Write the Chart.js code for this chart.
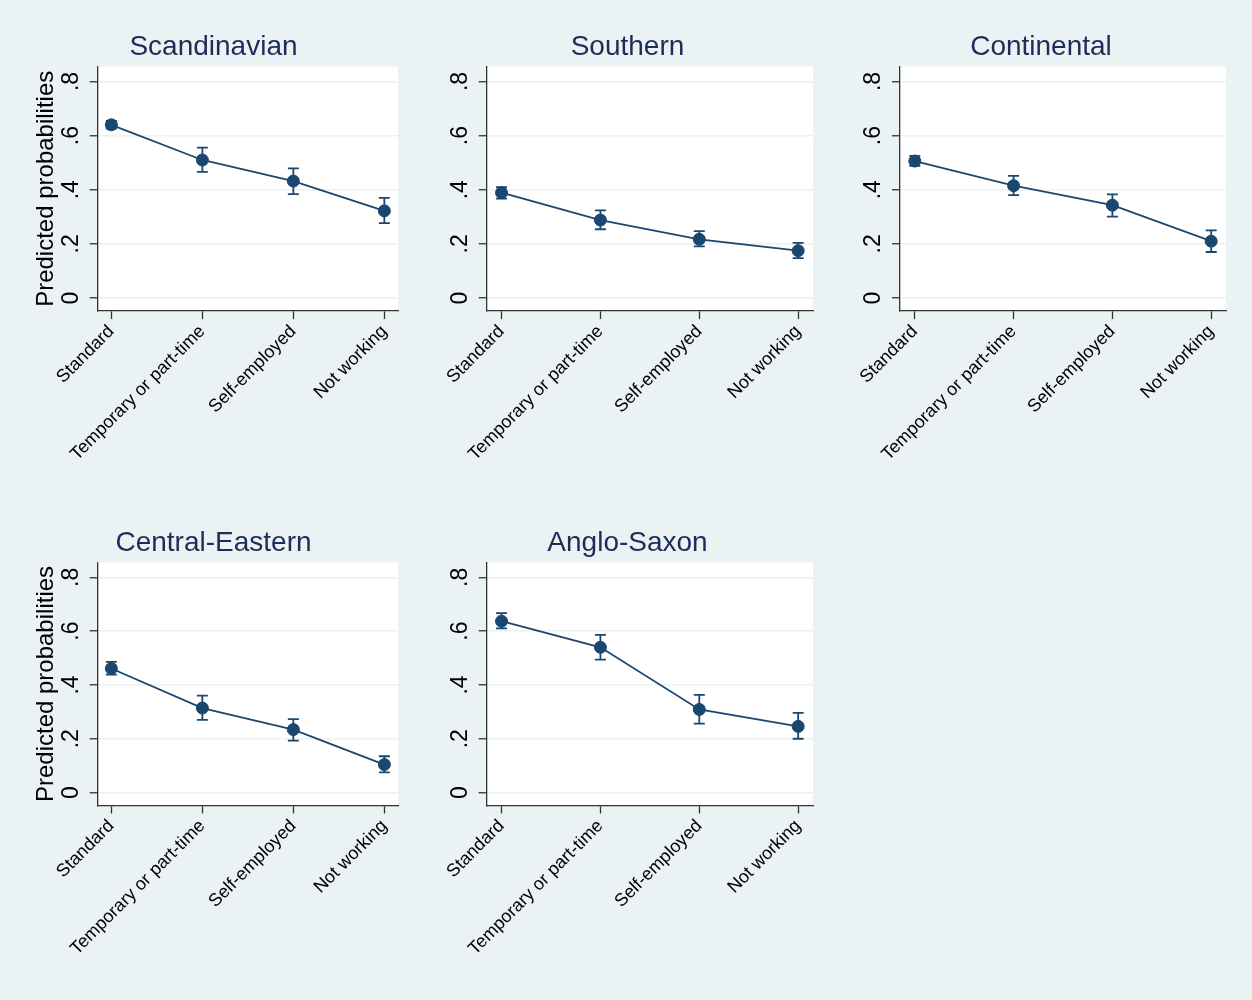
<!DOCTYPE html>
<html>
<head>
<meta charset="utf-8">
<script src="https://cdn.jsdelivr.net/npm/chart.js@4.4.1/dist/chart.umd.min.js"></script>
<style>
html, body { margin: 0; padding: 0; background: #eaf2f3; }
body { width: 1252px; height: 1000px; position: relative; overflow: hidden; }
canvas { position: absolute; }
</style>
</head>
<body>
<canvas id="p0" width="371" height="461" style="left:29px;top:20px"></canvas>
<canvas id="p1" width="373" height="461" style="left:442px;top:20px"></canvas>
<canvas id="p2" width="372" height="461" style="left:856px;top:20px"></canvas>
<canvas id="p3" width="371" height="461" style="left:29px;top:516px"></canvas>
<canvas id="p4" width="373" height="461" style="left:442px;top:516px"></canvas>
<script>
// ---- data ----
const categories = ["Standard", "Temporary or part-time", "Self-employed", "Not working"];
const regionTitles = ["Scandinavian", "Southern", "Continental", "Central-Eastern", "Anglo-Saxon"];
const yTickValues = [0, 0.2, 0.4, 0.6, 0.8];
const yTickLabels = ["0", ".2", ".4", ".6", ".8"];
const yAxisTitle = "Predicted probabilities";

const scandinavianEst = [0.640, 0.510, 0.432, 0.322];
const scandinavianLo  = [0.626, 0.466, 0.384, 0.277];
const scandinavianHi  = [0.654, 0.556, 0.479, 0.370];

const southernEst = [0.389, 0.288, 0.217, 0.175];
const southernLo  = [0.367, 0.254, 0.191, 0.147];
const southernHi  = [0.410, 0.324, 0.247, 0.204];

const continentalEst = [0.506, 0.415, 0.343, 0.210];
const continentalLo  = [0.488, 0.380, 0.301, 0.170];
const continentalHi  = [0.525, 0.451, 0.383, 0.250];

const centralEasternEst = [0.461, 0.314, 0.234, 0.104];
const centralEasternLo  = [0.438, 0.270, 0.193, 0.075];
const centralEasternHi  = [0.486, 0.360, 0.273, 0.135];

const angloSaxonEst = [0.637, 0.540, 0.309, 0.246];
const angloSaxonLo  = [0.610, 0.494, 0.256, 0.200];
const angloSaxonHi  = [0.667, 0.586, 0.363, 0.296];

// ---- styling ----
const NAVY = "#1a476f";
const TITLE_COLOR = "#1e2c5a";
const BG = "#eaf2f3";
const AXIS = "#333333";
const FONT = "'Liberation Sans', Arial, Helvetica, sans-serif";
Chart.defaults.font.family = FONT;

const areaBg = {
  id: "areaBg",
  beforeDraw(chart) {
    const a = chart.chartArea, c = chart.ctx;
    c.save(); c.fillStyle = "#ffffff";
    c.fillRect(a.left, a.top, a.right - a.left, a.bottom - a.top);
    c.restore();
  }
};

const errorBars = {
  id: "errorBars",
  beforeDatasetsDraw(chart) {
    const c = chart.ctx, xs = chart.scales.x, ys = chart.scales.y;
    chart.data.datasets.forEach(ds => {
      if (!ds.errLo) return;
      c.save();
      c.strokeStyle = ds.borderColor; c.lineWidth = 1.8;
      ds.data.forEach((p, i) => {
        const x = xs.getPixelForValue(p.x);
        const y1 = ys.getPixelForValue(ds.errLo[i]);
        const y2 = ys.getPixelForValue(ds.errHi[i]);
        const hw = 5.5;
        c.beginPath();
        c.moveTo(x, y1); c.lineTo(x, y2);
        c.moveTo(x - hw, y1); c.lineTo(x + hw, y1);
        c.moveTo(x - hw, y2); c.lineTo(x + hw, y2);
        c.stroke();
      });
      c.restore();
    });
  }
};

const yLabels = {
  id: "yLabels",
  afterDraw(chart) {
    const c = chart.ctx, ys = chart.scales.y;
    c.save();
    c.fillStyle = "#000";
    c.font = "23px " + FONT;
    c.textAlign = "center"; c.textBaseline = "middle";
    yTickValues.forEach((v, i) => {
      const y = ys.getPixelForValue(v);
      const x = ys.right - 26.5;
      c.save(); c.translate(x, y); c.rotate(-Math.PI / 2);
      c.fillText(yTickLabels[i], 0, 0);
      c.restore();
    });
    c.restore();
  }
};

function makePanel(id, title, est, lo, hi, yWidth, showYTitle, titleTop, titleBottom, xHeight) {
  const points = est.map((v, i) => ({ x: i + 1, y: v }));
  return new Chart(document.getElementById(id), {
    type: "line",
    data: {
      datasets: [{
        data: points,
        errLo: lo, errHi: hi,
        borderColor: NAVY, backgroundColor: NAVY,
        borderWidth: 1.8,
        pointRadius: 6, pointBorderWidth: 1, pointHoverRadius: 6,
        pointBackgroundColor: NAVY, pointBorderColor: NAVY,
        tension: 0, fill: false, clip: false
      }]
    },
    options: {
      responsive: false, animation: false, events: [],
      layout: { autoPadding: false, padding: { top: 0, right: 2, bottom: 0, left: 0 } },
      plugins: {
        legend: { display: false },
        tooltip: { enabled: false },
        title: {
          display: true, text: title, color: TITLE_COLOR,
          font: { size: 28, weight: "normal", family: FONT },
          padding: { top: titleTop, bottom: titleBottom }
        }
      },
      scales: {
        x: {
          type: "linear", min: 0.85, max: 4.15,
          afterBuildTicks: ax => { ax.ticks = categories.map((c, i) => ({ value: i + 1 })); },
          afterFit: s => { s.height = xHeight; s.paddingLeft = 0; s.paddingRight = 0; },
          ticks: {
            autoSkip: false, minRotation: 45, maxRotation: 45,
            callback: v => categories[v - 1],
            color: "#000", font: { size: 18, family: FONT }, padding: 2
          },
          grid: { drawOnChartArea: false, tickLength: 8, tickColor: AXIS, tickWidth: 1.3 },
          border: { display: true, color: AXIS, width: 1.3 }
        },
        y: {
          min: -0.048, max: 0.855,
          afterBuildTicks: ax => { ax.ticks = yTickValues.map(v => ({ value: v })); },
          afterFit: s => { s.width = yWidth; s.paddingTop = 0; s.paddingBottom = 0; },
          ticks: { display: false },
          title: {
            display: showYTitle, text: yAxisTitle, color: "#000",
            font: { size: 24, family: FONT }, padding: { top: 3, bottom: 0 }
          },
          grid: { color: BG, lineWidth: 1.5, tickLength: 8, tickColor: AXIS, tickWidth: 1.3, drawTicks: true },
          border: { display: true, color: AXIS, width: 1.3 }
        }
      }
    },
    plugins: [areaBg, errorBars, yLabels]
  });
}

makePanel("p0", regionTitles[0], scandinavianEst, scandinavianLo, scandinavianHi, 68.7, true, 10, 3, 170);
makePanel("p1", regionTitles[1], southernEst, southernLo, southernHi, 44.7, false, 10, 3, 170);
makePanel("p2", regionTitles[2], continentalEst, continentalLo, continentalHi, 44, false, 10, 3, 170);
makePanel("p3", regionTitles[3], centralEasternEst, centralEasternLo, centralEasternHi, 68.7, true, 10.5, 2.4, 171.5);
makePanel("p4", regionTitles[4], angloSaxonEst, angloSaxonLo, angloSaxonHi, 44.7, false, 10.5, 2.4, 171.5);
</script>
</body>
</html>
